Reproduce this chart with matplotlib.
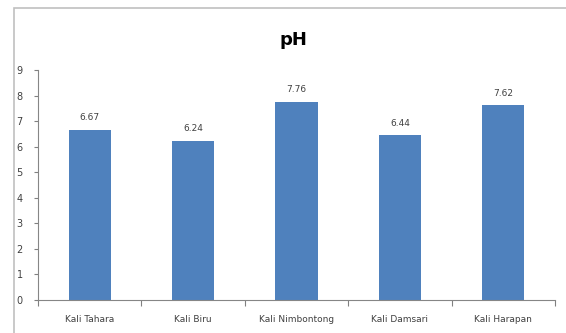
import matplotlib
matplotlib.use("Agg")
import matplotlib.pyplot as plt
from matplotlib.patches import Rectangle

categories = ["Kali Tahara", "Kali Biru", "Kali Nimbontong", "Kali Damsari", "Kali Harapan"]
values = [6.67, 6.24, 7.76, 6.44, 7.62]

fig = plt.figure(figsize=(5.66, 3.33), dpi=100)
fig.patches.append(Rectangle((14/566, -0.1), 1.2, 1 - 8/333 + 0.1,
                             transform=fig.transFigure, fill=False, edgecolor="#c0c0c0", linewidth=1.2))
ax = fig.add_axes([38/566, 1-300/333, (555-38)/566, (300-70)/333])

x = list(range(len(categories)))
ax.bar(x, values, width=0.41, color="#4F81BD")
for xi, v in zip(x, values):
    ax.text(xi, v + 0.3, f"{v:.2f}", ha="center", va="bottom", fontsize=6.5, color="#404040")

ax.set_xlim(-0.5, len(categories) - 0.5)
ax.set_ylim(0, 9)
ax.set_yticks(range(0, 10))
ax.set_xticks([i + 0.5 for i in range(-1, len(categories))], minor=False)
ax.set_xticklabels([])
ax.set_xticks(x, minor=True)
ax.set_xticklabels(categories, minor=True, fontsize=6.5, color="#404040")
ax.tick_params(axis="x", which="minor", length=0, pad=11)
ax.tick_params(axis="x", which="major", length=4, color="#808080", direction="out")
ax.tick_params(axis="y", length=3, color="#808080", labelsize=7, labelcolor="#404040", pad=8)
for s in ["top", "right"]:
    ax.spines[s].set_visible(False)
for s in ["left", "bottom"]:
    ax.spines[s].set_color("#868686")
    ax.spines[s].set_linewidth(0.8)

fig.text(293/566, 1-40/333, "pH", ha="center", va="center", fontsize=13, fontweight="bold")

fig.savefig("out.png", dpi=100)
